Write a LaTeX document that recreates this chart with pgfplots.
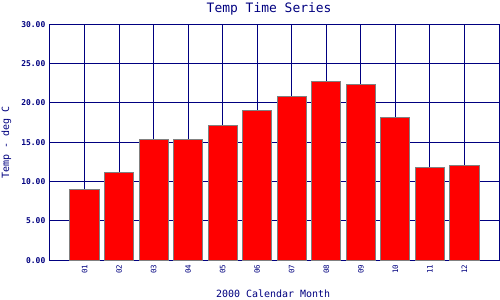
\documentclass[border=0pt]{standalone}
\usepackage{pgfplots}
\pgfplotsset{compat=1.18}
\usepackage{fontspec}
\setmainfont{DejaVu Sans Mono}
\newfontfamily\monofont{DejaVu Sans Mono}
\definecolor{navy}{HTML}{000080}
\definecolor{barred}{HTML}{FF0000}
\definecolor{bargray}{HTML}{808080}
\begin{document}
\begin{tikzpicture}
\fill[white] (0,0) rectangle (500bp,300bp);
\useasboundingbox (0,0) rectangle (500bp,300bp);
\begin{axis}[
  at={(50bp,39.7bp)}, anchor=south west,
  scale only axis, width=449bp, height=236bp,
  xmin=0, xmax=13, ymin=0, ymax=30,
  xtick={1,...,12},
  xticklabels={01,02,03,04,05,06,07,08,09,10,11,12},
  ytick={0,5,10,15,20,25,30},
  yticklabels={0.00,5.00,10.00,15.00,20.00,25.00,30.00},
  major tick length=0pt,
  grid=major,
  major grid style={navy, line width=1bp},
  axis line style={navy, line width=1bp},
  tick style={draw=none},
  xticklabel style={rotate=90, anchor=east, inner xsep=4.5bp, inner ysep=0pt, font=\monofont\fontsize{7.5}{8}\selectfont, text=navy},
  yticklabel style={anchor=east, inner xsep=4.5bp, font=\monofont\bfseries\fontsize{8}{9}\selectfont, text=navy},
  every axis title shift=0pt,
  title={Temp Time Series},
  title style={at={(axis description cs:0.488,1.067)}, anchor=center, font=\monofont\fontsize{13}{14}\selectfont, text=navy},
  xlabel={2000 Calendar Month},
  xlabel style={at={(axis description cs:0.497,-0.143)}, anchor=center, font=\monofont\fontsize{10}{11}\selectfont, text=navy},
  ylabel={Temp - deg C},
  ylabel style={at={(axis description cs:-0.0969,0.5)}, anchor=center, font=\monofont\fontsize{10}{11}\selectfont, text=navy},
  ybar, bar width=0.845,
]
\addplot[fill=barred, draw=bargray, line width=1bp] coordinates {
(1,9.01) (2,11.17) (3,15.39) (4,15.39) (5,17.13) (6,19.04)
(7,20.81) (8,22.72) (9,22.33) (10,18.15) (11,11.80) (12,12.06)
};
\end{axis}
\end{tikzpicture}
\end{document}
